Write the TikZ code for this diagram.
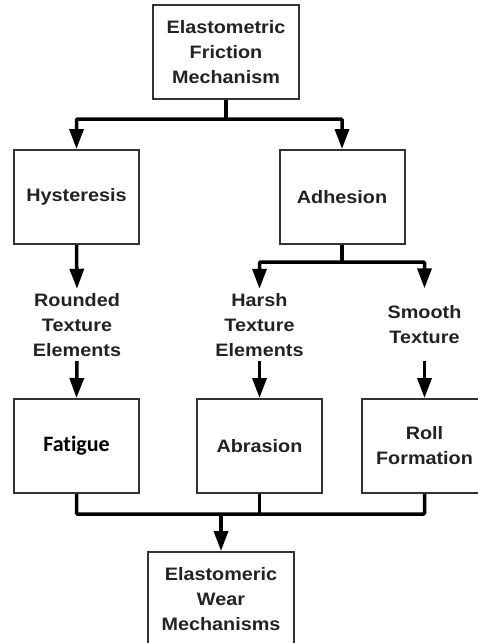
\documentclass[tikz,border=0pt]{standalone}
\usepackage{fontspec}
\setmainfont[FakeStretch=1.1]{Liberation Sans}
\newfontfamily\fatiguefont[Ligatures=NoCommon]{Carlito}
\usetikzlibrary{calc,arrows.meta}
\definecolor{boxline}{HTML}{333333}
\definecolor{boxtext}{HTML}{222222}
\newcommand{\BoxW}{125pt}
\newcommand{\BoxH}{94pt}
\tikzset{Box/.style={
    inner sep=0pt,
    minimum width=\BoxW,
    minimum height=\BoxH,
    draw=boxline,
    line width=2pt,
    fill=white,
    align=center,
    text=boxtext,
    font=\bfseries\fontsize{18}{25}\selectfont,
    }
}
\begin{document}
\begin{tikzpicture}[x=1pt, y=1pt,
    Label/.style={inner sep=0pt, minimum height=72pt, align=center,
        text=boxtext, font=\bfseries\fontsize{18}{25}\selectfont},
    Line/.style={line width=3.5pt, black},
    Arrow/.style={Line, -{Triangle[width=14pt,length=20pt]}},
]
\useasboundingbox (0,0) rectangle (478,-643);
% top level
\node [Box, minimum width=146pt] (friction) at (226,-52) {Elastometric\\Friction\\Mechanism};
\node [Box] (hyst) at (76.5,-197) {Hysteresis};
\node [Box] (adh) at (342,-197) {Adhesion};
% texture labels
\node [Label] (rounded) at (77,-325) {Rounded\\Texture\\Elements};
\node [Label] (harsh) at (259.5,-325) {Harsh\\Texture\\Elements};
\node [Label] (smooth) at (424.5,-324.5) {Smooth\\Texture};
% wear types
\node [Box] (fatigue) at (76.5,-446) {\fatiguefont\bfseries\fontsize{22}{25}\selectfont\color{black}Fatigue};
\node [Box] (abrasion) at (259.5,-446) {Abrasion};
\node [Box] (roll) at (424.5,-446) {Roll\\Formation};
\node [Box, minimum width=146pt] (wear) at (221,-599) {Elastomeric\\Wear\\Mechanisms};
% branch points
\coordinate (b1) at (226,-119);
\coordinate (b2) at (342,-262);
\coordinate (b3) at (221,-514);
\draw [Line] (friction.south) -- (b1);
\draw [Arrow, rounded corners=1pt] (b1) -| (hyst.north);
\draw [Arrow, rounded corners=1pt] (b1) -| (adh.north);
\draw [Arrow] (hyst.south) -- (rounded.north);
\draw [Line] (adh.south) -- (b2);
\draw [Arrow, rounded corners=1pt] (b2) -| (harsh.north);
\draw [Arrow, rounded corners=1pt] (b2) -| (smooth.north);
\draw [Arrow] (rounded.south) -- (fatigue.north);
\draw [Arrow] (harsh.south) -- (abrasion.north);
\draw [Arrow] (smooth.south) -- (roll.north);
\draw [Line, rounded corners=1pt] (fatigue.south) |- (b3) -| (roll.south);
\draw [Line] (abrasion.south) -- (abrasion.south |- b3);
\draw [Arrow] (b3) -- (wear.north);
\end{tikzpicture}
\end{document}
